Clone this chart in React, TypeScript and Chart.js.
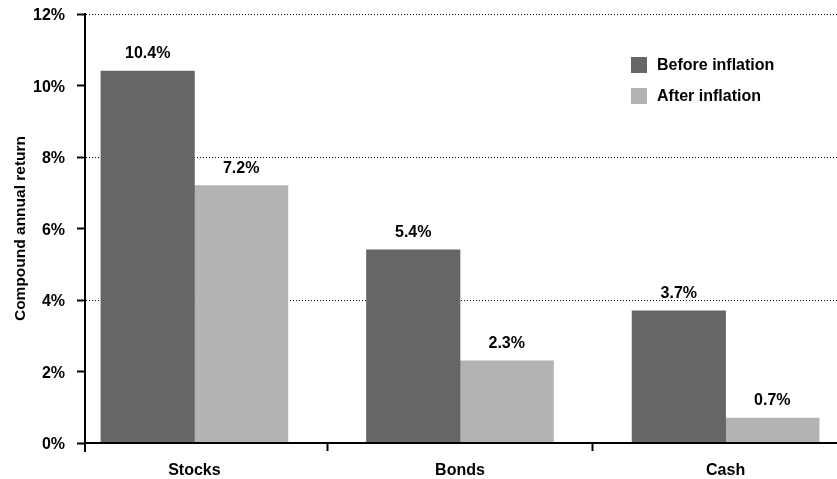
import React, { useEffect, useRef } from 'react';
import { Chart, registerables } from 'chart.js';

Chart.register(...registerables);

const categories = ['Stocks', 'Bonds', 'Cash'];
const beforeInflation = [10.4, 5.4, 3.7];
const afterInflation = [7.2, 2.3, 0.7];
const seriesNames = ['Before inflation', 'After inflation'];
const seriesColors = ['#666666', '#b3b3b3'];
const yTickValues = [0, 2, 4, 6, 8, 10, 12];
const yGridValues = [4, 8, 12];

const FONT = "'Liberation Sans', Arial, Helvetica, sans-serif";

const valueLabels = {
  id: 'valueLabels',
  afterDatasetsDraw(chart: any) {
    const ctx = chart.ctx;
    ctx.save();
    ctx.font = `bold 16px ${FONT}`;
    ctx.fillStyle = '#000';
    ctx.textAlign = 'center';
    ctx.textBaseline = 'alphabetic';
    chart.data.datasets.forEach((ds: any, di: number) => {
      const meta = chart.getDatasetMeta(di);
      meta.data.forEach((bar: any, i: number) => {
        const v = ds.data[i].y;
        ctx.fillText(v.toFixed(1) + '%', bar.x, bar.y - 13);
      });
    });
    ctx.restore();
  },
};

const insideLegend = {
  id: 'insideLegend',
  afterDraw(chart: any) {
    const ctx = chart.ctx;
    const area = chart.chartArea;
    const x0 = area.right - 206;
    const y0 = area.top + 43;
    ctx.save();
    ctx.font = `bold 16px ${FONT}`;
    ctx.textAlign = 'left';
    ctx.textBaseline = 'middle';
    chart.data.datasets.forEach((ds: any, i: number) => {
      const y = y0 + i * 31;
      ctx.fillStyle = ds.backgroundColor;
      ctx.fillRect(x0, y, 16, 16);
      ctx.fillStyle = '#000';
      ctx.fillText(ds.label, x0 + 26, y + 9);
    });
    ctx.restore();
  },
};

const axisExtension = {
  id: 'axisExtension',
  afterDraw(chart: any) {
    const ctx = chart.ctx;
    const area = chart.chartArea;
    ctx.save();
    ctx.strokeStyle = '#000';
    ctx.lineWidth = 2;
    ctx.beginPath();
    ctx.moveTo(area.left, area.bottom);
    ctx.lineTo(area.left, area.bottom + 9);
    ctx.stroke();
    ctx.restore();
  },
};

export default function App() {
  const canvasRef = useRef<HTMLCanvasElement | null>(null);

  useEffect(() => {
    if (!canvasRef.current) return;
    const chart = new Chart(canvasRef.current, {
      type: 'bar',
      data: {
        datasets: [
          {
            label: seriesNames[0],
            data: categories.map((_, i) => ({ x: i, y: beforeInflation[i] })),
            backgroundColor: seriesColors[0],
            borderWidth: 0,
            barThickness: 93.5,
          },
          {
            label: seriesNames[1],
            data: categories.map((_, i) => ({ x: i, y: afterInflation[i] })),
            backgroundColor: seriesColors[1],
            borderWidth: 0,
            barThickness: 93.5,
          },
        ],
      },
      options: {
        animation: false,
        responsive: false,
        devicePixelRatio: 1,
        layout: { padding: { top: 14, right: 0, bottom: 0, left: 0 } },
        plugins: {
          legend: { display: false },
          tooltip: { enabled: false },
        },
        scales: {
          x: {
            type: 'linear',
            min: -0.412,
            max: 2.4195,
            offset: false,
            afterBuildTicks: (scale: any) => {
              scale.ticks = categories.map((_, i) => ({ value: i }));
            },
            afterFit: (scale: any) => {
              scale.height = 36;
              scale.paddingLeft = 0;
              scale.paddingRight = 0;
            },
            ticks: {
              autoSkip: false,
              maxRotation: 0,
              padding: 10,
              color: '#000',
              font: { family: FONT, size: 16, weight: 'bold' },
              callback: (v: any) => categories[v] ?? '',
            },
            grid: {
              offset: true,
              drawOnChartArea: false,
              drawTicks: true,
              tickLength: 8,
              tickWidth: 2,
              color: '#000',
              tickColor: '#000',
            },
            border: { display: true, color: '#000', width: 2, z: 1 },
          },
          y: {
            type: 'linear',
            min: 0,
            max: 12,
            afterBuildTicks: (scale: any) => {
              scale.ticks = yTickValues.map((v) => ({ value: v }));
            },
            afterFit: (scale: any) => {
              scale.width = 85;
              scale.paddingTop = 0;
              scale.paddingBottom = 0;
            },
            ticks: {
              padding: 12,
              labelOffset: 2,
              color: '#000',
              font: { family: FONT, size: 16, weight: 'bold' },
              callback: (v: any) => v + '%',
            },
            grid: {
              drawTicks: true,
              tickLength: 8,
              tickWidth: 2,
              lineWidth: 1,
              tickColor: '#000',
              color: (c: any) =>
                c.tick && yGridValues.includes(c.tick.value) ? '#000' : 'rgba(0,0,0,0)',
            },
            border: { display: true, color: '#000', width: 2, dash: [1, 2], z: 1 },
            title: {
              display: true,
              text: 'Compound annual return',
              color: '#000',
              font: { family: FONT, size: 15.5, weight: 'bold' },
              padding: { top: 11, bottom: 0 },
            },
          },
        },
      },
      plugins: [valueLabels, insideLegend, axisExtension],
    } as any);
    return () => chart.destroy();
  }, []);

  return (
    <div style={{ position: 'fixed', left: 0, top: 0, width: 837, height: 479, background: '#fff' }}>
      <canvas ref={canvasRef} width={837} height={479} />
    </div>
  );
}
